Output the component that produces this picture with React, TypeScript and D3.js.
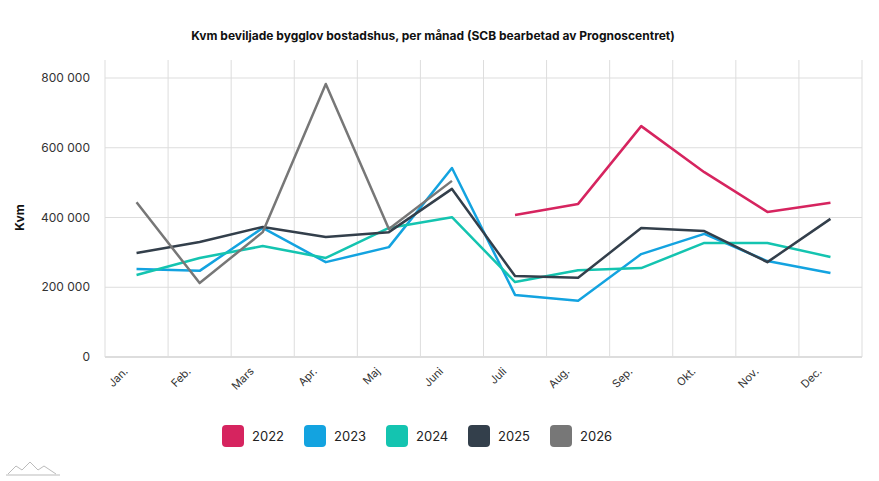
import React from "react";
import * as d3 from "d3";

const months = ["Jan.", "Feb.", "Mars", "Apr.", "Maj", "Juni", "Juli", "Aug.", "Sep.", "Okt.", "Nov.", "Dec."];
const s2022 = [null, null, null, null, null, null, 407000, 439000, 662000, 530000, 416000, 442000];
const s2023 = [252000, 247000, 370000, 272000, 315000, 542000, 178000, 161000, 295000, 353000, 275000, 241000];
const s2024 = [235000, 284000, 318000, 284000, 370000, 401000, 215000, 249000, 255000, 327000, 327000, 287000];
const s2025 = [298000, 330000, 373000, 344000, 358000, 482000, 232000, 227000, 370000, 361000, 272000, 396000];
const s2026 = [444000, 212000, 358000, 783000, 367000, 505000, null, null, null, null, null, null];
const yTicks = [0, 200000, 400000, 600000, 800000];
const seriesNames = ["2022", "2023", "2024", "2025", "2026"];
const colors = ["#d6245f", "#13a3e0", "#14c4b0", "#333f4b", "#777777"];

export default function App() {
  const W = 879, H = 481;
  const left = 105, right = 862, top = 60, bottom = 357;
  const x = d3.scaleBand<string>().domain(months).range([left, right]);
  const y = d3.scaleLinear().domain([0, 800000]).range([bottom, 78]);
  const all = [s2022, s2023, s2024, s2025, s2026];
  const line = d3.line<number | null>()
    .defined((d) => d != null)
    .x((_, i) => x(months[i])! + x.bandwidth() / 2)
    .y((d) => y(d as number));
  const fmt = (v: number) => v === 0 ? "0" : d3.format(",")(v).replace(/,/g, " ");
  const legendX = [222, 304, 386, 468, 550];
  return (
    <svg width={W} height={H} style={{ position: "absolute", left: 0, top: 0, fontFamily: "Inter, sans-serif" }}>
      <rect width={W} height={H} fill="#fff" />
      <text x={433} y={40} textAnchor="middle" fontSize={12} fontWeight={700} fill="#111">
        Kvm beviljade bygglov bostadshus, per månad (SCB bearbetad av Prognoscentret)
      </text>
      {yTicks.map((t) => (
        <g key={t}>
          <line x1={left} x2={right} y1={y(t)} y2={y(t)} stroke={t === 0 ? "#bbb" : "#ddd"} />
          <text x={90} y={y(t) + 4} textAnchor="end" fontSize={12} fill="#333">{fmt(t)}</text>
        </g>
      ))}
      {months.map((m, i) => (
        <line key={m} x1={x(m)!} x2={x(m)!} y1={top} y2={bottom} stroke="#ddd" />
      ))}
      <line x1={right} x2={right} y1={top} y2={bottom} stroke="#ddd" />
      <text transform={`translate(24,${y(400000)}) rotate(-90)`} textAnchor="middle" fontSize={12} fontWeight={700} fill="#111">Kvm</text>
      {months.map((m) => {
        const cx = x(m)! + x.bandwidth() / 2;
        return (
          <text key={m} transform={`translate(${cx - 8},${372}) rotate(-45)`} textAnchor="end" fontSize={11} fill="#333">{m}</text>
        );
      })}
      {all.map((s, i) => (
        <path key={i} d={line(s)!} fill="none" stroke={colors[i]} strokeWidth={2.5} strokeLinejoin="round" />
      ))}
      {seriesNames.map((n, i) => (
        <g key={n}>
          <rect x={legendX[i]} y={425} width={22} height={22} rx={4} fill={colors[i]} />
          <text x={legendX[i] + 30} y={441} fontSize={13} fill="#222">{n}</text>
        </g>
      ))}
      <path d="M8,474 L16,466 L22,470 L30,462 L38,470 L44,466 L56,474" fill="none" stroke="#bbb" strokeWidth={1} />
      <line x1={6} x2={60} y1={475} y2={475} stroke="#bbb" />
    </svg>
  );
}
